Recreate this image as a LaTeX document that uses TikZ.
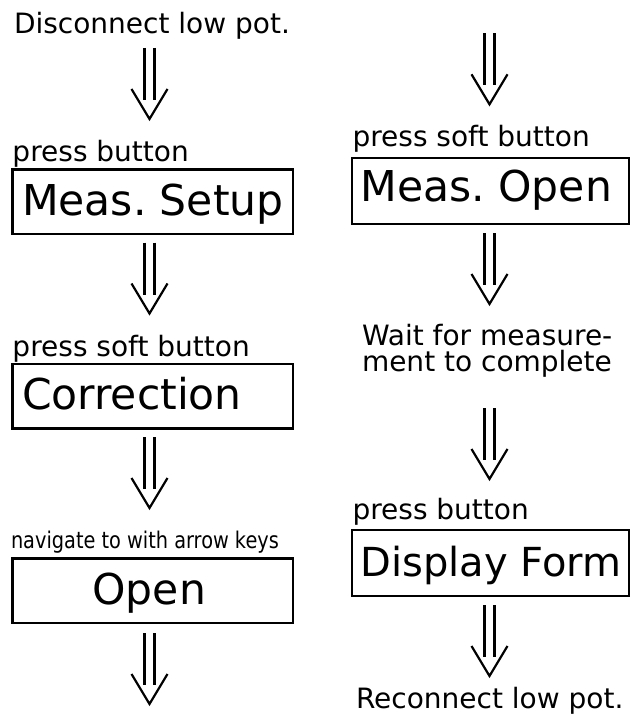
\documentclass[tikz,border=0pt]{standalone}
\usepackage{fontspec}
\setmainfont{DejaVu Sans}
\tikzset{
  x=1pt, y=-1pt,
  every node/.style={inner sep=0pt, outer sep=0pt},
  note/.style={anchor=base west, font=\fontsize{28}{26}\selectfont},
  panel/.style={draw, line width=2.4pt, font=\fontsize{42.5}{42.5}\selectfont,
    text depth=0pt, inner ysep=0pt},
  lpanel/.style={panel, inner xsep=9.5pt, minimum height=64.5pt},
  rpanel/.style={panel, inner xsep=8.5pt, minimum height=65.7pt},
  stroke/.style={line width=2.2pt},
  pics/dnarrow/.style={code={
    \draw[stroke] (-5,0) -- (-5,52) (5,0) -- (5,52);
    \draw[stroke, line join=miter] (-18,41) -- (0,71) -- (18,41);
  }}
}
% left-aligned box labels of a fixed width
\newcommand\lbox[1]{\makebox[261.5pt][l]{#1}}
\newcommand\rbox[1]{\makebox[260pt][l]{#1}}
\begin{document}
\frenchspacing
\begin{tikzpicture}
\useasboundingbox (0,0) rectangle (634,719);

% left column
\node[note] (disc) at (14,33.3) {Disconnect low pot.};
\coordinate (a1) at (149.5,48);
\pic at (a1) {dnarrow};
\node[note] (pb1) at (12.5,161.7) {press button};
\node[lpanel, text height=26.5pt] (setup) at (152.75,201.75) {\lbox{Meas. Setup}};
\coordinate (a2) at (149.5,242.5);
\pic at (a2) {dnarrow};
\node[note] (psb1) at (12.5,356.2) {press soft button};
\node[lpanel, text height=26.5pt] (corr) at (152.75,396.25) {\lbox{Correction}};
\coordinate (a3) at (149.5,437);
\pic at (a3) {dnarrow};
\node[anchor=base west] (nav) at (11,548.3)
  {\scalebox{0.84}[1]{\fontsize{23}{23}\selectfont navigate to with arrow keys}};
\node[lpanel, text height=26.5pt] (open) at (152.75,590.75)
  {\makebox[261.5pt][c]{Open\hspace{7pt}}};
\coordinate (a4) at (149.5,633);
\pic at (a4) {dnarrow};

% right column
\coordinate (b1) at (489.5,33.3);
\pic at (b1) {dnarrow};
\node[note] (psb2) at (352.5,146.7) {press soft button};
\node[rpanel, text height=19.7pt] (mopen) at (490.5,191.15) {\rbox{Meas. Open}};
\coordinate (b2) at (489.5,233);
\pic at (b2) {dnarrow};
\node[note, align=left] (wait) at (362,371) {Wait for measure-\\ment to complete};
\coordinate (b3) at (489.5,408);
\pic at (b3) {dnarrow};
\node[note] (pb2) at (352.5,519) {press button};
\node[rpanel, font=\fontsize{40}{40}\selectfont, text height=26pt] (dform) at (490.5,563)
  {\rbox{Display Form}};
\coordinate (b4) at (489.5,605);
\pic at (b4) {dnarrow};
\node[note] (recon) at (356,708.3) {Reconnect low pot.};
\end{tikzpicture}
\end{document}
